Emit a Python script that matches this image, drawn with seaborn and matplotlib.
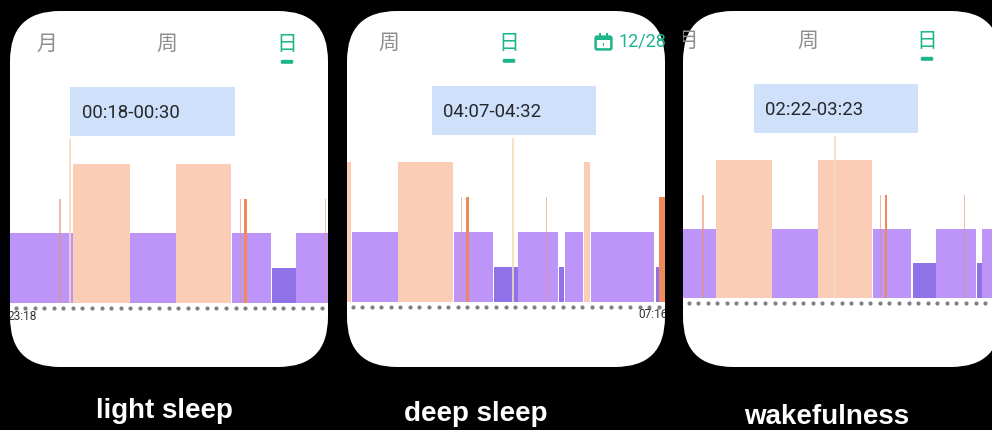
import numpy as np
import matplotlib
matplotlib.use("Agg")
import matplotlib.pyplot as plt
from matplotlib.patches import FancyBboxPatch, Rectangle
from matplotlib.transforms import Affine2D
import seaborn as sns

# sleep stages, minutes after 23:18
light_spans = [(0, 69.5), (132.4, 183.2), (245, 288), (316, 360), (367.3, 387.8), (396.3, 466.2)]
deep_spans = [(289.6, 315.6), (361, 366.5), (467.7, 471.7)]
rem_spans = [(69.5, 131.9), (183.7, 244.4), (388.3, 395.2)]
awake_spans = [(258.2, 261.2), (471.7, 482)]
brief_spans = [(54.2, 56), (253.4, 254.5), (347.1, 348.3)]

light_level = 2
deep_level = 1
rem_level = 4
awake_level = 3

panel_names = ["light sleep", "deep sleep", "wakefulness"]
panel_ranges = ["00:18-00:30", "04:07-04:32", "02:22-03:23"]
panel_starts = [0, 127.1, 32.6]
panel_cursors = [66.5, 310.6, 202.7]
tab_labels = [["月", "周", "日"], ["周", "日"], ["月", "周", "日"]]

W, H = 992, 430
GREEN = "#1fb58c"
GREY = "#8e8e8e"

# x, top, baseline of each card in picture pixels
cards = [(10, 11, 303), (347, 11, 301.5), (683, 11, 297.5)]
minutes_per_px = [1.1034, 1.1034, 1.1185]
px_per_level = [34.8, 34.8, 34.3]
card_w, card_h = 318, 356
tips = [(70, 87), (431.5, 86), (753.5, 84)]
tab_x = [[47, 167, 287], [389, 509], [688, 808, 927]]
tab_y = [44, 43, 41]
name_pos = [(164, 411), (476, 414), (827, 417)]

sns.set_theme(style="white")
plt.rcParams["font.family"] = ["Noto Sans CJK SC", "Noto Sans", "DejaVu Sans"]

fig = plt.figure(figsize=(W / 100, H / 100), dpi=100, facecolor="black")
px = Affine2D().scale(1 / W, -1 / H).translate(0, 1) + fig.transFigure


def draw_stage(ax, spans, level, color, alpha=1.0):
    edges = sorted({e for s in spans for e in s})
    mids = [(a + b) / 2 for a, b in spans]
    sns.histplot(x=mids, weights=[level] * len(spans), bins=edges, color=color,
                 alpha=alpha, linewidth=0, ax=ax)


for i, (cx, cy, base) in enumerate(cards):
    scale = minutes_per_px[i]
    unit = px_per_level[i]
    ax = fig.add_axes([cx / W, 1 - (cy + card_h) / H, card_w / W, card_h / H])
    ax.set_axis_off()
    ax.set_xlim(panel_starts[i], panel_starts[i] + card_w * scale)
    ax.set_ylim(-(cy + card_h - base) / unit, (base - cy) / unit)

    card = FancyBboxPatch((cx + 50, cy + 50), card_w - 100, card_h - 100,
                          boxstyle="round,pad=50,rounding_size=50", transform=px,
                          fc="white", ec="none", zorder=0, clip_on=False)
    ax.add_patch(card)

    draw_stage(ax, light_spans, light_level, "#bd95f9")
    draw_stage(ax, deep_spans, deep_level, "#8f72e8")
    draw_stage(ax, rem_spans, rem_level, "#fbcdb6")
    ax.vlines(panel_cursors[i], 0, (base - (tips[i][1] + 52)) / unit,
              color="#f2dcb8", linewidth=1.2, zorder=3)
    draw_stage(ax, brief_spans, awake_level, "#e98f6c", alpha=0.6)
    draw_stage(ax, awake_spans, awake_level, "#f0895a")

    dots = panel_starts[i] + (np.arange(0, 34) * 9.57 + 5.5) * scale
    sns.scatterplot(x=dots, y=-5 / unit, color="#808086", s=9, linewidth=0,
                    ax=ax, zorder=4)

    tx, ty = tips[i]
    ax.add_patch(Rectangle((tx, ty), 164.5, 49, transform=px, fc="#cfe0fb", ec="none",
                           zorder=5))
    ax.text(tx + 12, ty + 26, panel_ranges[i], transform=px, fontsize=13.4, color="#26282c",
            family="Roboto", va="center", ha="left", zorder=6)

    for j, (label, lx) in enumerate(zip(tab_labels[i], tab_x[i])):
        on = label == "日"
        ax.text(lx, tab_y[i], label, transform=px, fontsize=15, ha="center", va="center",
                color=GREEN if on else GREY, zorder=6)
        if on:
            ax.add_patch(FancyBboxPatch((lx - 5, tab_y[i] + 17), 10, 1.6, transform=px,
                                        boxstyle="round,pad=1.2,rounding_size=1.2",
                                        fc=GREEN, ec="none", zorder=6))

    if i == 0:
        ax.text(8, 316, "23:18", transform=px, fontsize=8.6, color="#333333",
                family="Roboto", va="center", zorder=6)
    if i == 1:
        ax.text(638, 315, "07:16", transform=px, fontsize=8.6, color="#333333",
                family="Roboto", va="center", zorder=6)
        # calendar icon and date
        ax.add_patch(FancyBboxPatch((596, 37), 15, 12, transform=px, fc="none", ec=GREEN, lw=1.8,
                                    boxstyle="round,pad=0.4,rounding_size=1.5", zorder=6))
        ax.add_patch(Rectangle((596, 36.5), 15, 3.5, transform=px, fc=GREEN, ec="none", zorder=6))
        ax.add_patch(Rectangle((599, 33), 2, 4, transform=px, fc=GREEN, ec="none", zorder=6))
        ax.add_patch(Rectangle((606, 33), 2, 4, transform=px, fc=GREEN, ec="none", zorder=6))
        ax.add_patch(Rectangle((602.7, 42.5), 1.6, 3.5, transform=px, fc=GREEN, ec="none", zorder=6))
        ax.text(619, 42, "12/28", transform=px, fontsize=13, color=GREEN,
                family="Roboto", va="center", zorder=6)

    for art in ax.patches + ax.collections + ax.texts:
        if art is not card:
            art.set_clip_on(True)
            art.set_clip_path(card)

    fig.text(name_pos[i][0] / W, 1 - name_pos[i][1] / H, panel_names[i], color="white",
             family="Liberation Sans", fontweight="bold", fontsize=20, ha="center", va="center")

fig.savefig("out.png", dpi=100, facecolor="black")
